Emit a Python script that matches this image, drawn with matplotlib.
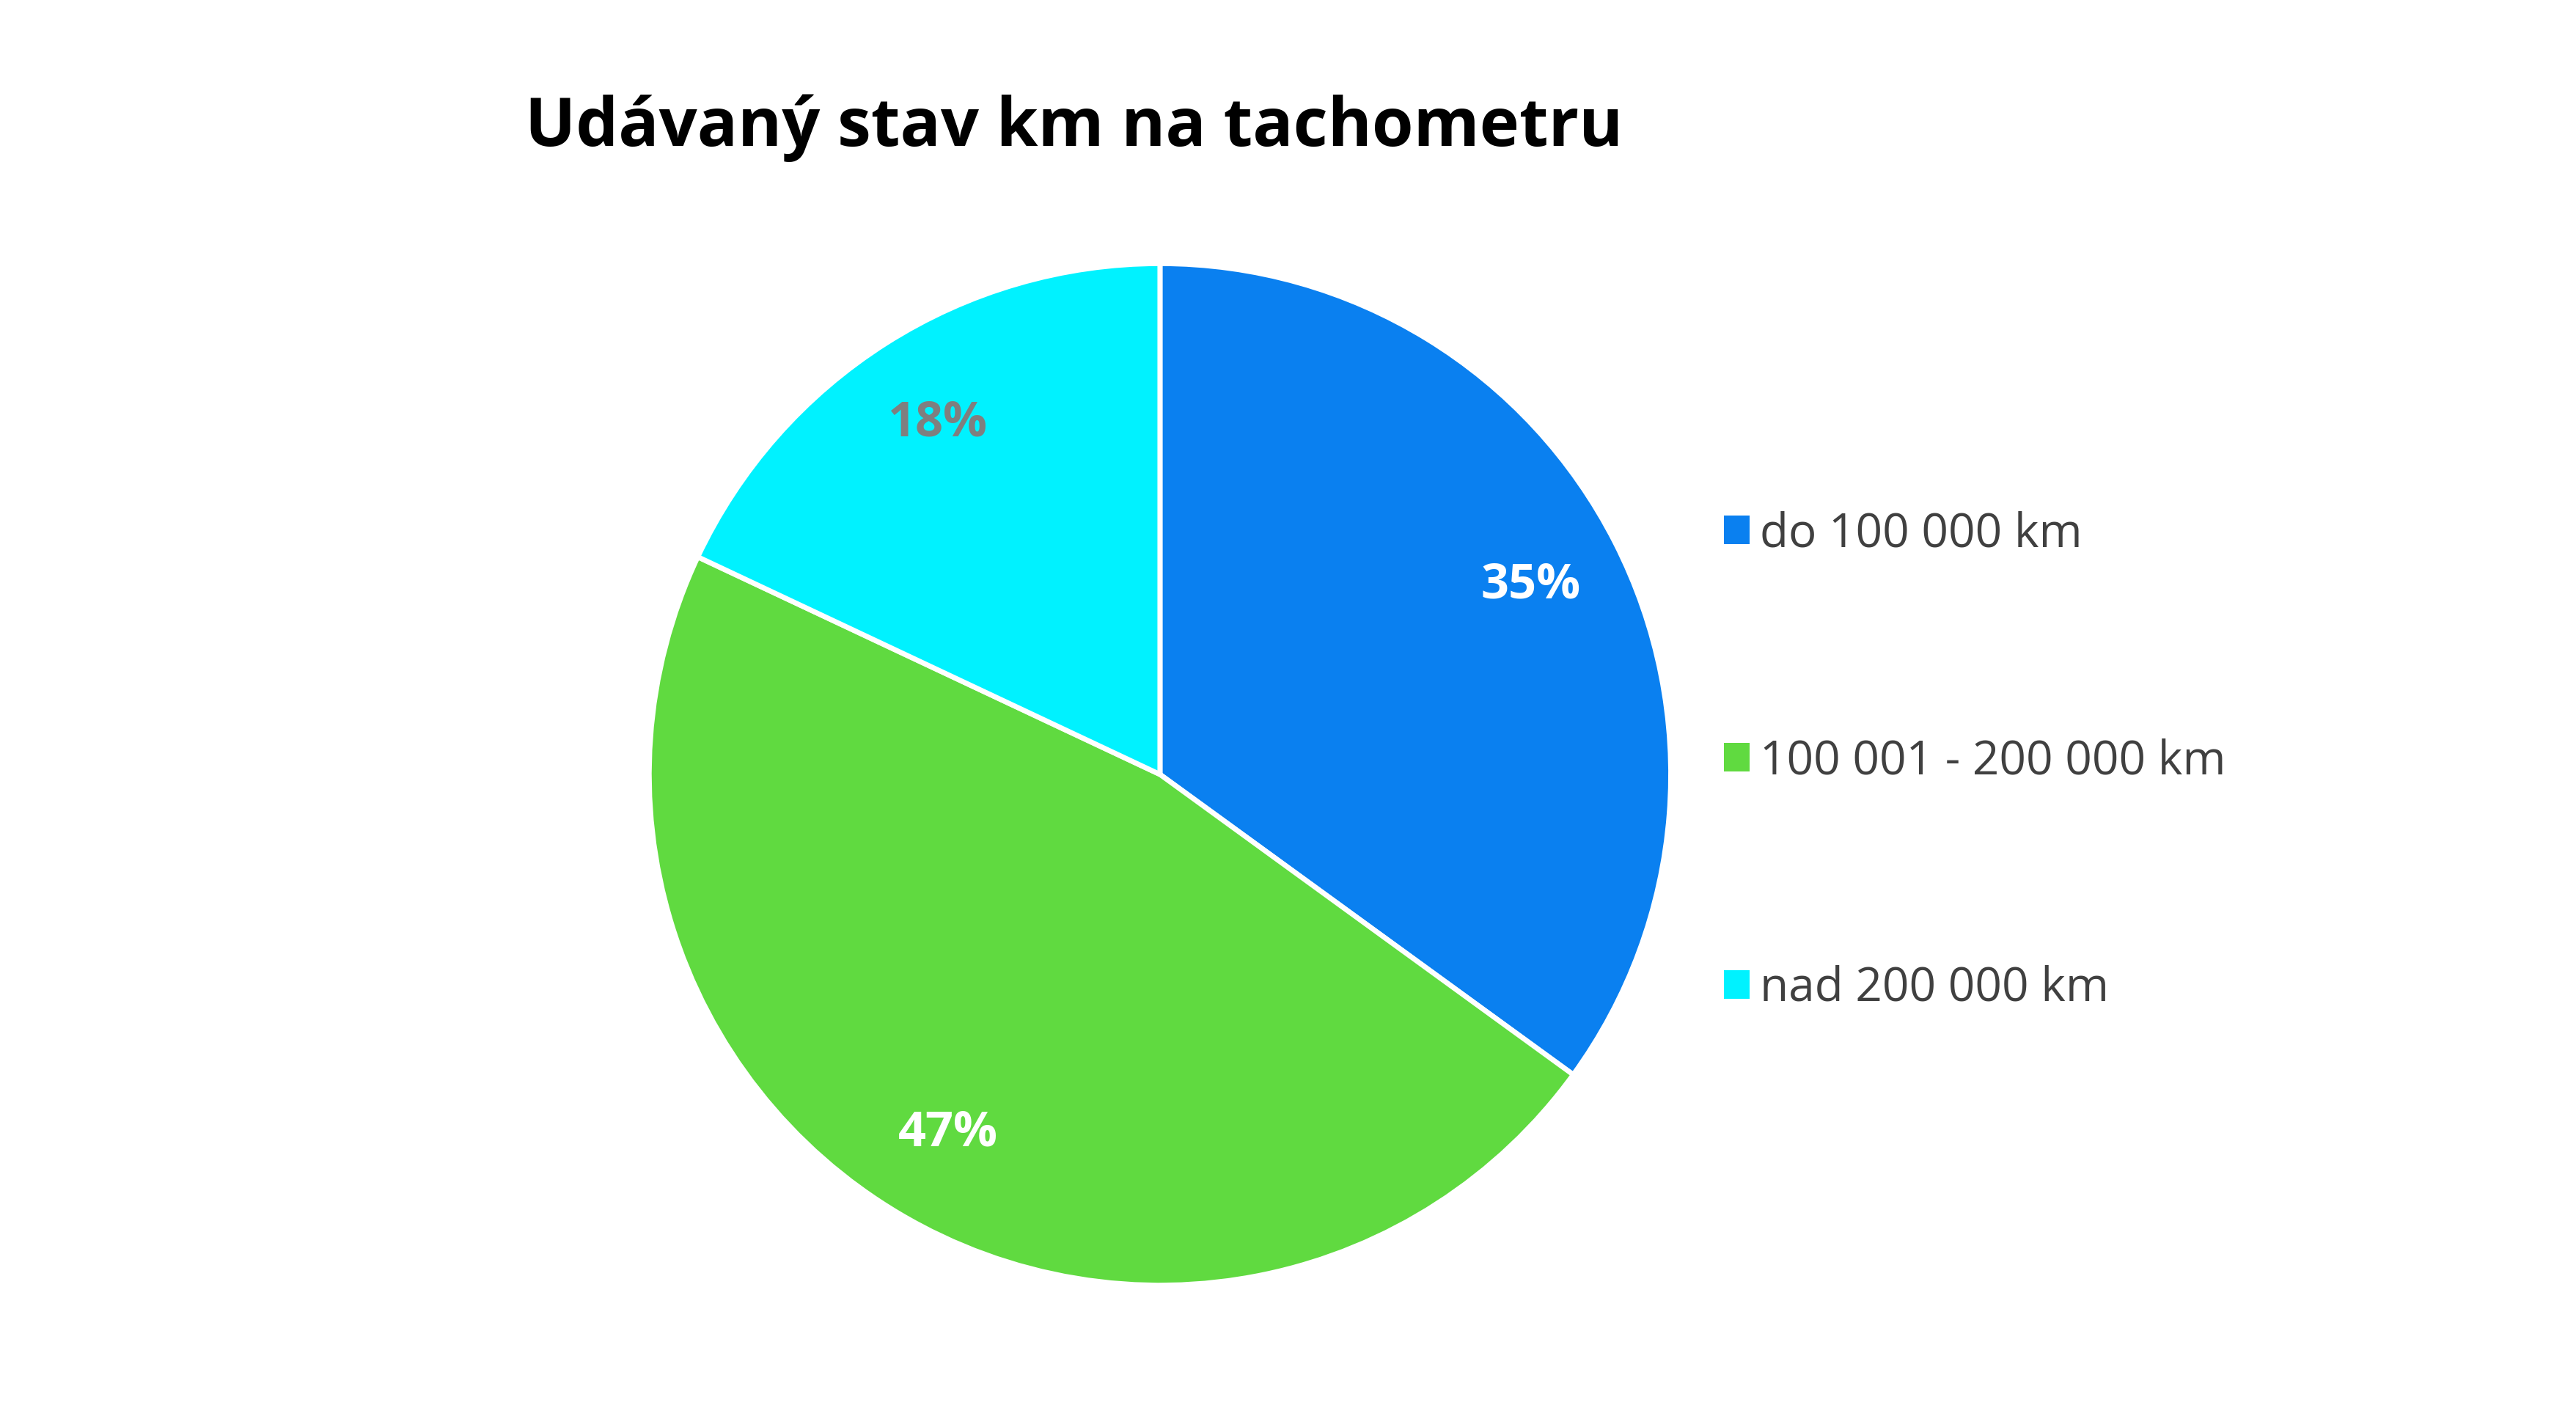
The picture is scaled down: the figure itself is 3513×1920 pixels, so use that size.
import matplotlib
matplotlib.use("Agg")
import matplotlib.pyplot as plt
import numpy as np

categories = ["do 100 000 km", "100 001 - 200 000 km", "nad 200 000 km"]
values = [35, 47, 18]
pct_labels = ["35%", "47%", "18%"]
colors = ["#0A80F0", "#60DA40", "#00F2FF"]
label_colors = ["white", "white", "#7F7F7F"]
title = "Udávaný stav km na tachometru"

plt.rcParams['font.family'] = ['Open Sans', 'DejaVu Sans']

fig = plt.figure(figsize=(35.13, 19.2), dpi=100)
w_frac, h_frac = 0.3966, 0.7257
cx, cy = 0.4503, 0.4500
ax = fig.add_axes([cx - w_frac / 2, cy - h_frac / 2, w_frac, h_frac])

wedges, _ = ax.pie(values, colors=colors, startangle=90, counterclock=False,
                   radius=1.0, wedgeprops=dict(edgecolor="white", linewidth=5))
for w, lab, c in zip(wedges, pct_labels, label_colors):
    mid = np.deg2rad((w.theta1 + w.theta2) / 2)
    r = 0.815
    ax.text(r * np.cos(mid), r * np.sin(mid), lab, ha="center", va="center",
            fontsize=48, fontweight="bold", color=c)
ax.set_xlim(-1.0, 1.0)
ax.set_ylim(-1.0, 1.0)
ax.set_aspect("equal")
ax.axis("off")

fig.text(0.417, 0.909, title, ha="center", va="center", fontsize=66,
         fontweight="bold", color="black")

leg = fig.legend(wedges, categories, loc="center left",
                 bbox_to_anchor=(2293 / 3513, (1920 - 1038) / 1920),
                 frameon=False, fontsize=46, handlelength=0.55, handleheight=0.55,
                 handletextpad=0.22, labelspacing=3.85, labelcolor="#404040")
for h in leg.legend_handles:
    h.set_edgecolor("none")

fig.savefig("out.png", dpi=100, facecolor="white")
